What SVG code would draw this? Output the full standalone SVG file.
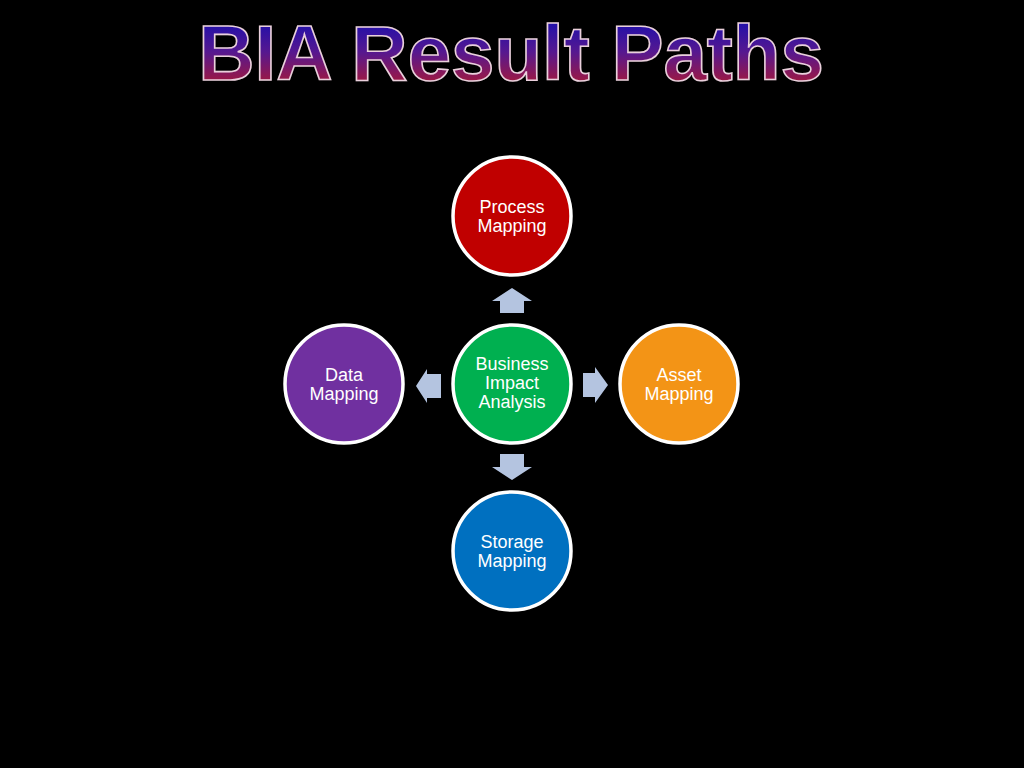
<svg xmlns="http://www.w3.org/2000/svg" width="1024" height="768" viewBox="0 0 1024 768">
<defs>
<linearGradient id="tg" gradientUnits="userSpaceOnUse" x1="0" y1="24" x2="0" y2="80">
<stop offset="0" stop-color="#2410A8"/>
<stop offset="0.5" stop-color="#561890"/>
<stop offset="1" stop-color="#981848"/>
</linearGradient>
<style>
.node{stroke:#FFFFFF;stroke-width:3.5}
.lbl{font-family:"Liberation Sans",Arial,sans-serif;font-size:18px;fill:#FFFFFF;text-anchor:middle}
.arr{fill:#B4C4E0}
</style>
</defs>
<rect width="1024" height="768" fill="#000000"/>
<text x="511" y="80" text-anchor="middle" font-family="Liberation Sans,Arial,sans-serif" font-weight="bold" font-size="78" fill="url(#tg)" stroke="#EAD0DC" stroke-width="1.6">BIA Result Paths</text>
<g id="connectors">
<path class="arr" d="M512,288 L532,301 L524,301 L524,313 L500,313 L500,301 L492,301 Z"/>
<path class="arr" d="M512,480 L532,467 L524,467 L524,454 L500,454 L500,467 L492,467 Z"/>
<path class="arr" d="M608,385 L595,367 L595,373 L583,373 L583,397 L595,397 L595,403 Z"/>
<path class="arr" d="M416,386 L427,369 L427,374 L441,374 L441,398 L427,398 L427,403 Z"/>
</g>
<g id="bia">
<circle class="node" cx="512" cy="384" r="59" fill="#00B050"/>
<text class="lbl" x="512" y="370">Business</text>
<text class="lbl" x="512" y="389">Impact</text>
<text class="lbl" x="512" y="408">Analysis</text>
</g>
<g id="process">
<circle class="node" cx="512" cy="216" r="59" fill="#C00000"/>
<text class="lbl" x="512" y="212.5">Process</text>
<text class="lbl" x="512" y="232">Mapping</text>
</g>
<g id="storage">
<circle class="node" cx="512" cy="551" r="59" fill="#0070C0"/>
<text class="lbl" x="512" y="547.5">Storage</text>
<text class="lbl" x="512" y="567">Mapping</text>
</g>
<g id="data">
<circle class="node" cx="344" cy="384" r="59" fill="#7030A0"/>
<text class="lbl" x="344" y="380.5">Data</text>
<text class="lbl" x="344" y="400">Mapping</text>
</g>
<g id="asset">
<circle class="node" cx="679" cy="384" r="59" fill="#F39416"/>
<text class="lbl" x="679" y="380.5">Asset</text>
<text class="lbl" x="679" y="400">Mapping</text>
</g>
</svg>
